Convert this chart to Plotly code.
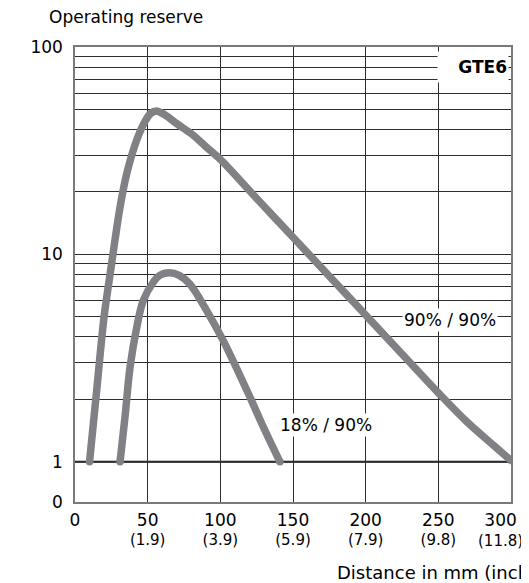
import plotly.graph_objects as go

# Data (distance in mm, operating reserve)
dist_90 = [10, 15, 20, 24, 27.5, 31, 35.6, 42.4, 48.2, 52, 56, 62, 70, 80, 90, 100,
           125, 150, 175, 200, 225, 250, 270, 288, 301]
res_90 = [1.0, 2.24, 5.0, 7.9, 11.7, 16.9, 24.5, 35.5, 43.8, 47.8, 49.2, 47.0, 42.7, 38.2,
          33.1, 28.7, 18.6, 12.1, 7.85, 5.1, 3.31, 2.15, 1.55, 1.2, 1.0]

dist_18 = [31, 34.4, 37.9, 42.5, 47, 53.9, 58, 65, 72, 79, 90.6, 102, 120.4, 130, 141]
res_18 = [1.0, 1.64, 2.86, 4.45, 6.0, 7.35, 7.9, 8.15, 7.9, 7.2, 5.36, 3.84, 2.05, 1.45, 1.0]

x_ticks = [0, 50, 100, 150, 200, 250, 300]
x_inch = ["", "(1.9)", "(3.9)", "(5.9)", "(7.9)", "(9.8)", "(11.8)"]

y_grid = [0.64] + [k * 10 ** d for d in range(2) for k in range(1, 10)] + [100]
y_labels = {0.64: "0", 1: "1", 10: "10", 100: "100"}

FONT = "DejaVu Sans"
CURVE = "#808184"
GRID = "#2e2e2e"


def tick_label(v, inch):
    if inch:
        return f"<span style='font-size:17px'>{v}</span><br>{inch}"
    return f"<span style='font-size:17px'>{v}</span>"


# last label (300) is drawn as an annotation, nudged left like the reference
x_text = [tick_label(v, i) for v, i in zip(x_ticks[:-1], x_inch[:-1])] + [""]

fig = go.Figure()
for xs, ys in [(dist_90, res_90), (dist_18, res_18)]:
    fig.add_trace(go.Scatter(x=xs, y=ys, mode="lines",
                             line=dict(color=CURVE, width=7.5, shape="spline", smoothing=1),
                             hoverinfo="skip", showlegend=False))
    fig.add_trace(go.Scatter(x=[xs[0], xs[-1]], y=[ys[0], ys[-1]], mode="markers",
                             marker=dict(color=CURVE, size=7.5), cliponaxis=False,
                             hoverinfo="skip", showlegend=False))

fig.add_shape(type="line", xref="paper", x0=0, x1=1, yref="y", y0=1, y1=1,
              line=dict(color="black", width=2), layer="below")

fig.add_annotation(x=274, y=1.904, text="<b>GTE6</b>", align="right",
                   showarrow=False, bgcolor="white", width=68, height=28,
                   font=dict(size=17, color="black", family=FONT))
fig.add_annotation(x=258, y=0.684, text="90% / 90%", showarrow=False,
                   bgcolor="white", font=dict(size=17, color="black", family=FONT))
fig.add_annotation(x=172.4, y=0.177, text="18% / 90%", showarrow=False,
                   bgcolor="white", font=dict(size=17, color="black", family=FONT))

fig.add_annotation(x=x_ticks[-1], xref="x", yref="paper", y=0, yanchor="top",
                   xanchor="center", xshift=-11, yshift=-6,
                   text=tick_label(x_ticks[-1], x_inch[-1]), showarrow=False,
                   font=dict(size=15, color="black", family=FONT))

fig.add_annotation(xref="paper", yref="paper", x=-0.064, y=1.066, xanchor="left",
                   yanchor="middle", text="Operating reserve", showarrow=False,
                   font=dict(size=17, color="black", family=FONT))
fig.add_annotation(xref="paper", yref="paper", x=0.596, y=-0.154, xanchor="left",
                   yanchor="middle", text="Distance in mm (inch)", showarrow=False,
                   font=dict(size=18, color="black", family=FONT))

# page body adds an 8px offset; margins compensate so the plot lands at 75..511 x 47..502
fig.update_layout(
    width=529, height=583,
    margin=dict(l=67, r=26, t=39, b=89, autoexpand=False),
    paper_bgcolor="white", plot_bgcolor="white",
    font=dict(family=FONT, size=17, color="black"),
    xaxis=dict(range=[0, 300], tickvals=x_ticks, ticktext=x_text, showgrid=True,
               gridcolor=GRID, gridwidth=1, showline=True, linecolor="#7a7a7a",
               linewidth=1.5, mirror=True, ticks="", zeroline=False, automargin=False,
               ticklabelstandoff=4, ticklabeloverflow="allow", tickfont=dict(size=15)),
    yaxis=dict(type="log", range=[-0.194, 2], tickvals=y_grid,
               ticktext=[y_labels.get(v, "") for v in y_grid], showgrid=True,
               gridcolor=GRID, gridwidth=1, showline=True, linecolor="#7a7a7a",
               linewidth=1.5, mirror=True, ticks="", zeroline=False, automargin=False,
               ticklabelstandoff=7, tickfont=dict(size=17)),
)

fig.write_html("out.html")
